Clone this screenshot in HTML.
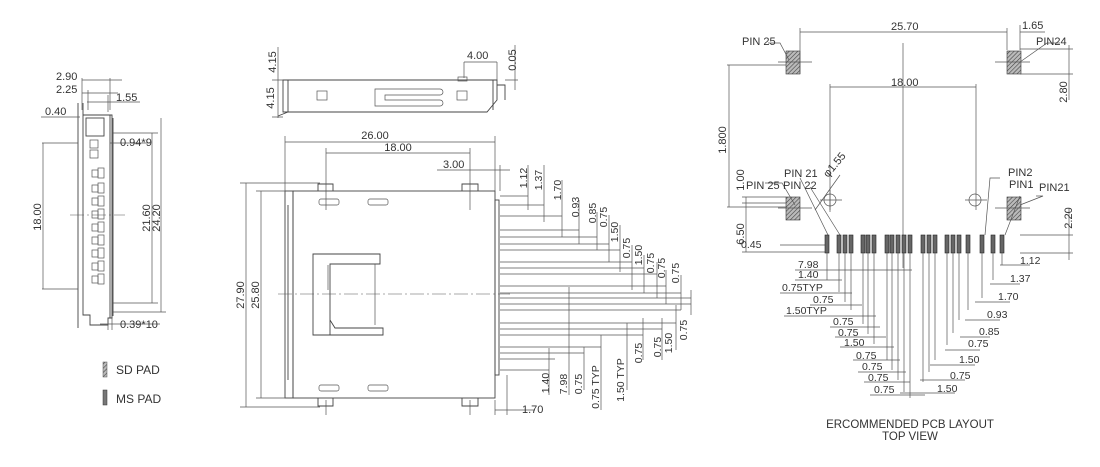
<!DOCTYPE html>
<html><head><meta charset="utf-8"><style>
html,body{margin:0;padding:0;background:#fff;}
svg{display:block;font-family:"Liberation Sans",sans-serif;font-size:11px;fill:#333;}
.l{stroke:#444;stroke-width:0.9;fill:none;}
.t{stroke:#555;stroke-width:0.7;fill:none;}
.c{stroke:#555;stroke-width:0.6;fill:none;stroke-dasharray:14 3 2 3;}
text{fill:#333;stroke:none;}
.pad{fill:#666;stroke:#222;stroke-width:0.6;}
</style></head><body>
<svg width="1100" height="467" viewBox="0 0 1100 467" xmlns="http://www.w3.org/2000/svg">
<defs>
<pattern id="h" width="3" height="3" patternUnits="userSpaceOnUse" patternTransform="rotate(45)"><rect width="3" height="3" fill="#bbb"/><line x1="0" y1="0" x2="0" y2="3" stroke="#444" stroke-width="1.2"/></pattern>
</defs>

<!-- ===== LEFT SIDE VIEW ===== -->
<path class="l" d="M78,103 V328 M83,103 V115 M83,115 H112 V318 H108 V325 H90 V315 H83 V300 M83,115 V300"/>
<path class="l" d="M110,115 V318 M113,118 V316"/>
<rect class="l" x="86" y="118" width="18" height="18"/>
<g class="t">
<rect x="92" y="170" width="6" height="7"/><rect x="98" y="168" width="6" height="10"/>
<rect x="92" y="185" width="6" height="7"/><rect x="98" y="183" width="6" height="10"/>
<rect x="92" y="198" width="6" height="7"/><rect x="98" y="196" width="6" height="10"/>
<rect x="92" y="211" width="6" height="7"/><rect x="98" y="209" width="6" height="10"/>
<rect x="92" y="224" width="6" height="7"/><rect x="98" y="222" width="6" height="10"/>
<rect x="92" y="237" width="6" height="7"/><rect x="98" y="235" width="6" height="10"/>
<rect x="92" y="250" width="6" height="7"/><rect x="98" y="248" width="6" height="10"/>
<rect x="92" y="263" width="6" height="7"/><rect x="98" y="261" width="6" height="10"/>
<rect x="92" y="276" width="6" height="7"/><rect x="98" y="274" width="6" height="10"/>
<rect x="90" y="140" width="8" height="8"/><rect x="90" y="150" width="8" height="8"/>
</g>
<path class="c" d="M70,215 H125"/>
<path class="t" d="M82,80 H122 M82,93 H118 M87,102 H140 M41,117 H80 M112,133 H158 M110,143 H150 M112,303 H158 M113,312 H166 M100,324 H160 M42,143 H78 M42,289 H78"/>
<path class="t" d="M82,78 V110 M110,78 V110 M88,90 V110 M108,95 V112 M43,143 V289 M152,133 V303 M161,118 V312 M108,318 V330 M112,318 V330 M78,110 V120"/>
<text x="56" y="80">2.90</text><text x="56" y="93">2.25</text><text x="116" y="101">1.55</text><text x="45" y="115">0.40</text>
<text x="120" y="146">0.94*9</text><text x="120" y="328">0.39*10</text>
<text transform="translate(41,217) rotate(-90)" text-anchor="middle">18.00</text>
<text transform="translate(150,218) rotate(-90)" text-anchor="middle">21.60</text>
<text transform="translate(160,218) rotate(-90)" text-anchor="middle">24.20</text>
<rect x="103" y="362" width="4" height="15" fill="url(#h)" stroke="#555" stroke-width="0.5"/>
<rect x="103" y="390" width="4" height="15" fill="#777" stroke="#333" stroke-width="0.5"/>
<text x="116" y="374" font-size="12">SD PAD</text><text x="116" y="403" font-size="12">MS PAD</text>

<!-- ===== TOP SIDE VIEW ===== -->
<path class="l" d="M283,80 H497 V100 L487,112 H283 Z M288,80 V112 L278,116"/>
<path class="l" d="M493,80 V110 M497,85 H505 V100"/>
<rect class="t" x="317" y="91" width="10" height="9"/><rect class="t" x="457" y="91" width="10" height="9"/>
<path class="t" d="M375,89 H440 A3,3 0 0 1 440,95 H385 V100 H440 A3,3 0 0 1 440,106 H375 Z"/>
<rect class="t" x="458" y="77" width="9" height="4"/>
<path class="t" d="M278,47 V118 M272,80 H283 M272,117 H283 M464,62 V78 M497,62 V80 M464,62 H497 M515,45 V90 M505,80 H518"/>
<text transform="translate(276,62) rotate(-90)" text-anchor="middle">4.15</text>
<text transform="translate(274,98) rotate(-90)" text-anchor="middle">4.15</text>
<text x="467" y="59">4.00</text>
<text transform="translate(516,60) rotate(-90)" text-anchor="middle">0.05</text>

<!-- ===== MAIN VIEW ===== -->
<rect class="l" x="293" y="191" width="202" height="207"/>
<rect class="l" x="285" y="191" width="8" height="207"/>
<path class="l" d="M288,205 V380"/>
<path class="l" d="M318,191 V184 H333 V191 M462,191 V184 H478 V191 M318,398 V406 H333 V398 M462,398 V406 H478 V398"/>
<rect class="t" x="319" y="199" width="20" height="6" rx="2"/><rect class="t" x="368" y="199" width="20" height="6" rx="2"/>
<rect class="t" x="319" y="385" width="20" height="6" rx="2"/><rect class="t" x="368" y="385" width="20" height="6" rx="2"/>
<path class="l" d="M313,254 H380 V264 H330 V335 H313 Z M330,264 V320 L335,328 H383 V335 H330"/>
<path class="t" d="M328,265 V290 M375,264 V325"/>
<path class="c" d="M278,294 H510"/>
<rect class="l" x="495" y="200" width="4" height="175"/>
<g class="t">
<path d="M285,136 V191 M495,136 V191 M285,142 H495 M326,148 V210 M470,148 V210 M326,153 H470 M437,170 H510 M500,165 V191"/>
<path d="M240,183 H320 M240,407 H320 M246,183 V407 M256,191 H293 M256,398 H293 M261,191 V398 M326,400 V415 M470,400 V415 M495,400 V415 M507,375 V415 M495,410 H535"/>
<path d="M500,196 H528 M500,205 H544 M500,216 H562 M500,230 H579 M500,237 H597 M500,244 H609 M500,250 H620 M500,262 H632 M500,268 H644 M500,274 H657 M500,286 H666 M500,293 H681 M500,298 H691 M500,304 H691 M500,310 H681 M500,323 H676 M500,329 H662 M500,335 H643 M500,347 H601 M500,353 H584 M500,359 H555 M500,370 H549"/>
<path d="M528,165 V210 M544,165 V222 M562,180 V237 M579,200 V244 M597,212 V250 M609,215 V262 M620,225 V272 M632,245 V290 M644,255 V293 M657,262 V298 M666,270 V304 M681,275 V310 M691,290 V315 M549,348 V395 M569,287 V395 M584,347 V390 M601,335 V410 M627,323 V390 M643,318 V360 M662,318 V360 M676,305 V350"/>
</g>
<g font-size="10.5">
<text transform="translate(527,178) rotate(-90)" text-anchor="middle">1.12</text>
<text transform="translate(542,180) rotate(-90)" text-anchor="middle">1.37</text>
<text transform="translate(561,190) rotate(-90)" text-anchor="middle">1.70</text>
<text transform="translate(579,207) rotate(-90)" text-anchor="middle">0.93</text>
<text transform="translate(596,213) rotate(-90)" text-anchor="middle">0.85</text>
<text transform="translate(607,217) rotate(-90)" text-anchor="middle">0.75</text>
<text transform="translate(618,232) rotate(-90)" text-anchor="middle">1.50</text>
<text transform="translate(630,248) rotate(-90)" text-anchor="middle">0.75</text>
<text transform="translate(642,255) rotate(-90)" text-anchor="middle">1.50</text>
<text transform="translate(654,263) rotate(-90)" text-anchor="middle">0.75</text>
<text transform="translate(665,268) rotate(-90)" text-anchor="middle">0.75</text>
<text transform="translate(679,273) rotate(-90)" text-anchor="middle">0.75</text>
<text transform="translate(549,383) rotate(-90)" text-anchor="middle">1.40</text>
<text transform="translate(567,384) rotate(-90)" text-anchor="middle">7.98</text>
<text transform="translate(582,384) rotate(-90)" text-anchor="middle">0.75</text>
<text transform="translate(599,387) rotate(-90)" text-anchor="middle">0.75 TYP</text>
<text transform="translate(624,380) rotate(-90)" text-anchor="middle">1.50 TYP</text>
<text transform="translate(642,353) rotate(-90)" text-anchor="middle">0.75</text>
<text transform="translate(661,347) rotate(-90)" text-anchor="middle">0.75</text>
<text transform="translate(672,343) rotate(-90)" text-anchor="middle">1.50</text>
<text transform="translate(687,330) rotate(-90)" text-anchor="middle">0.75</text>
</g>
<text x="375" y="139" text-anchor="middle">26.00</text><text x="398" y="151" text-anchor="middle">18.00</text>
<text x="443" y="168">3.00</text><text x="522" y="413">1.70</text>
<text transform="translate(244,295) rotate(-90)" text-anchor="middle">27.90</text>
<text transform="translate(259,295) rotate(-90)" text-anchor="middle">25.80</text>

<!-- ===== PCB LAYOUT ===== -->
<rect x="786" y="51" width="14" height="23" fill="url(#h)" stroke="#333" stroke-width="0.6"/>
<rect x="1007" y="51" width="14" height="23" fill="url(#h)" stroke="#333" stroke-width="0.6"/>
<rect x="786" y="197" width="14" height="23" fill="url(#h)" stroke="#333" stroke-width="0.6"/>
<rect x="1007" y="197" width="14" height="23" fill="url(#h)" stroke="#333" stroke-width="0.6"/>
<g class="t">
<path d="M778,62 H812 M995,62 H1030 M778,208 H812 M995,208 H1030"/>
<path d="M800,28 V74 M1007,28 V50 M1020,25 V50 M800,32 H1007 M1020,32 H1045 M1020,49 H1073 M1020,74 H1073 M1069,45 V100"/>
<path d="M903,43 V268 M830,84 V210 M976,84 V210 M830,87 H976"/>
<circle cx="830" cy="200" r="6"/><circle cx="975" cy="200" r="6"/>
<path d="M820,200 H842 M965,200 H987 M830,190 V212"/>
<path d="M729,65 V207 M727,65 H786 M727,207 H786 M746,197 V252 M742,197 H786 M742,203 H786 M742,252 H827 M1020,235 H1073 M1020,253 H1073 M1069,208 V260"/>
<path d="M768,43 H780 L789,60 M1060,43 H1047 L1020,62 M765,183 H782 L795,205 M800,178 L828,235 M810,187 L840,235 M1000,178 H990 L985,235 M1020,196 L1005,235 M1036,196 H1043 L1020,205 M840,175 L815,210 M780,245 H826"/>
</g>
<g>
<rect class="pad" x="825" y="235" width="4" height="18"/>
<rect class="pad" x="837" y="235" width="4" height="18"/><rect class="pad" x="843" y="235" width="4" height="18"/><rect class="pad" x="849" y="235" width="4" height="18"/>
<rect class="pad" x="861" y="235" width="4" height="18"/><rect class="pad" x="866" y="235" width="4" height="18"/><rect class="pad" x="872" y="235" width="4" height="18"/>
<rect class="pad" x="885" y="235" width="4" height="18"/><rect class="pad" x="890" y="235" width="4" height="18"/><rect class="pad" x="896" y="235" width="4" height="18"/><rect class="pad" x="902" y="235" width="4" height="18"/><rect class="pad" x="908" y="235" width="4" height="18"/>
<rect class="pad" x="921" y="235" width="4" height="18"/><rect class="pad" x="927" y="235" width="4" height="18"/><rect class="pad" x="933" y="235" width="4" height="18"/>
<rect class="pad" x="945" y="235" width="4" height="18"/><rect class="pad" x="951" y="235" width="4" height="18"/><rect class="pad" x="957" y="235" width="4" height="18"/><rect class="pad" x="966" y="235" width="4" height="18"/>
<rect class="pad" x="980" y="235" width="4" height="18"/><rect class="pad" x="991" y="235" width="4" height="18"/><rect class="pad" x="1000" y="235" width="4" height="18"/>
</g>
<g class="t">
<path d="M827,253 V280 M839,253 V292 M845,253 V302 M851,253 V310 M863,253 V324 M868,253 V334 M874,253 V344 M887,253 V360 M892,253 V370 M898,253 V380 M904,253 V392 M910,253 V398 M923,253 V382 M929,253 V372 M935,253 V360 M947,253 V345 M953,253 V333 M959,253 V320 M968,253 V310 M982,253 V298 M993,253 V280 M1002,253 V265"/>
<path d="M795,270 H912 M795,280 H842 M780,293 H852 M810,305 H862 M784,316 H876 M830,327 H880 M835,337 H886 M840,347 H894 M853,360 H900 M858,372 H906 M864,382 H910 M870,395 H925 M1000,265 H1030 M990,284 H1020 M975,302 H1010 M965,320 H1000 M960,337 H990 M945,350 H980 M930,365 H975 M920,380 H965 M900,393 H955"/>
</g>
<g font-size="10.5">
<text x="798" y="268">7.98</text><text x="798" y="278">1.40</text><text x="782" y="291">0.75TYP</text><text x="813" y="303">0.75</text><text x="786" y="314">1.50TYP</text>
<text x="833" y="325">0.75</text><text x="838" y="336">0.75</text><text x="844" y="346">1.50</text><text x="856" y="359">0.75</text><text x="862" y="370">0.75</text><text x="868" y="381">0.75</text><text x="874" y="393">0.75</text>
<text x="1020" y="264">1.12</text><text x="1010" y="282">1.37</text><text x="998" y="300">1.70</text><text x="987" y="318">0.93</text><text x="979" y="335">0.85</text><text x="968" y="347">0.75</text><text x="959" y="363">1.50</text><text x="950" y="379">0.75</text><text x="937" y="392">1.50</text>
<text x="741" y="248">0.45</text>
</g>
<g font-size="11">
<text x="891" y="30">25.70</text><text x="1022" y="29">1.65</text><text x="891" y="86">18.00</text>
<text x="742" y="45">PIN 25</text><text x="1036" y="45">PIN24</text>
<text x="784" y="177">PIN 21</text><text x="746" y="189">PIN 25</text><text x="783" y="189">PIN 22</text>
<text x="1008" y="176">PIN2</text><text x="1009" y="188">PIN1</text><text x="1039" y="191">PIN21</text>
<text transform="translate(828,178) rotate(-50)">φ1.55</text>
<text transform="translate(726,140) rotate(-90)" text-anchor="middle">1.800</text>
<text transform="translate(744,180) rotate(-90)" text-anchor="middle">1.00</text>
<text transform="translate(744,234) rotate(-90)" text-anchor="middle">6.50</text>
<text transform="translate(1067,92) rotate(-90)" text-anchor="middle">2.80</text>
<text transform="translate(1072,218) rotate(-90)" text-anchor="middle">2.20</text>
</g>
<text x="910" y="428" text-anchor="middle" font-size="11.5">ERCOMMENDED PCB LAYOUT</text>
<text x="910" y="440" text-anchor="middle" font-size="11.5">TOP VIEW</text>
</svg>
</body></html>
